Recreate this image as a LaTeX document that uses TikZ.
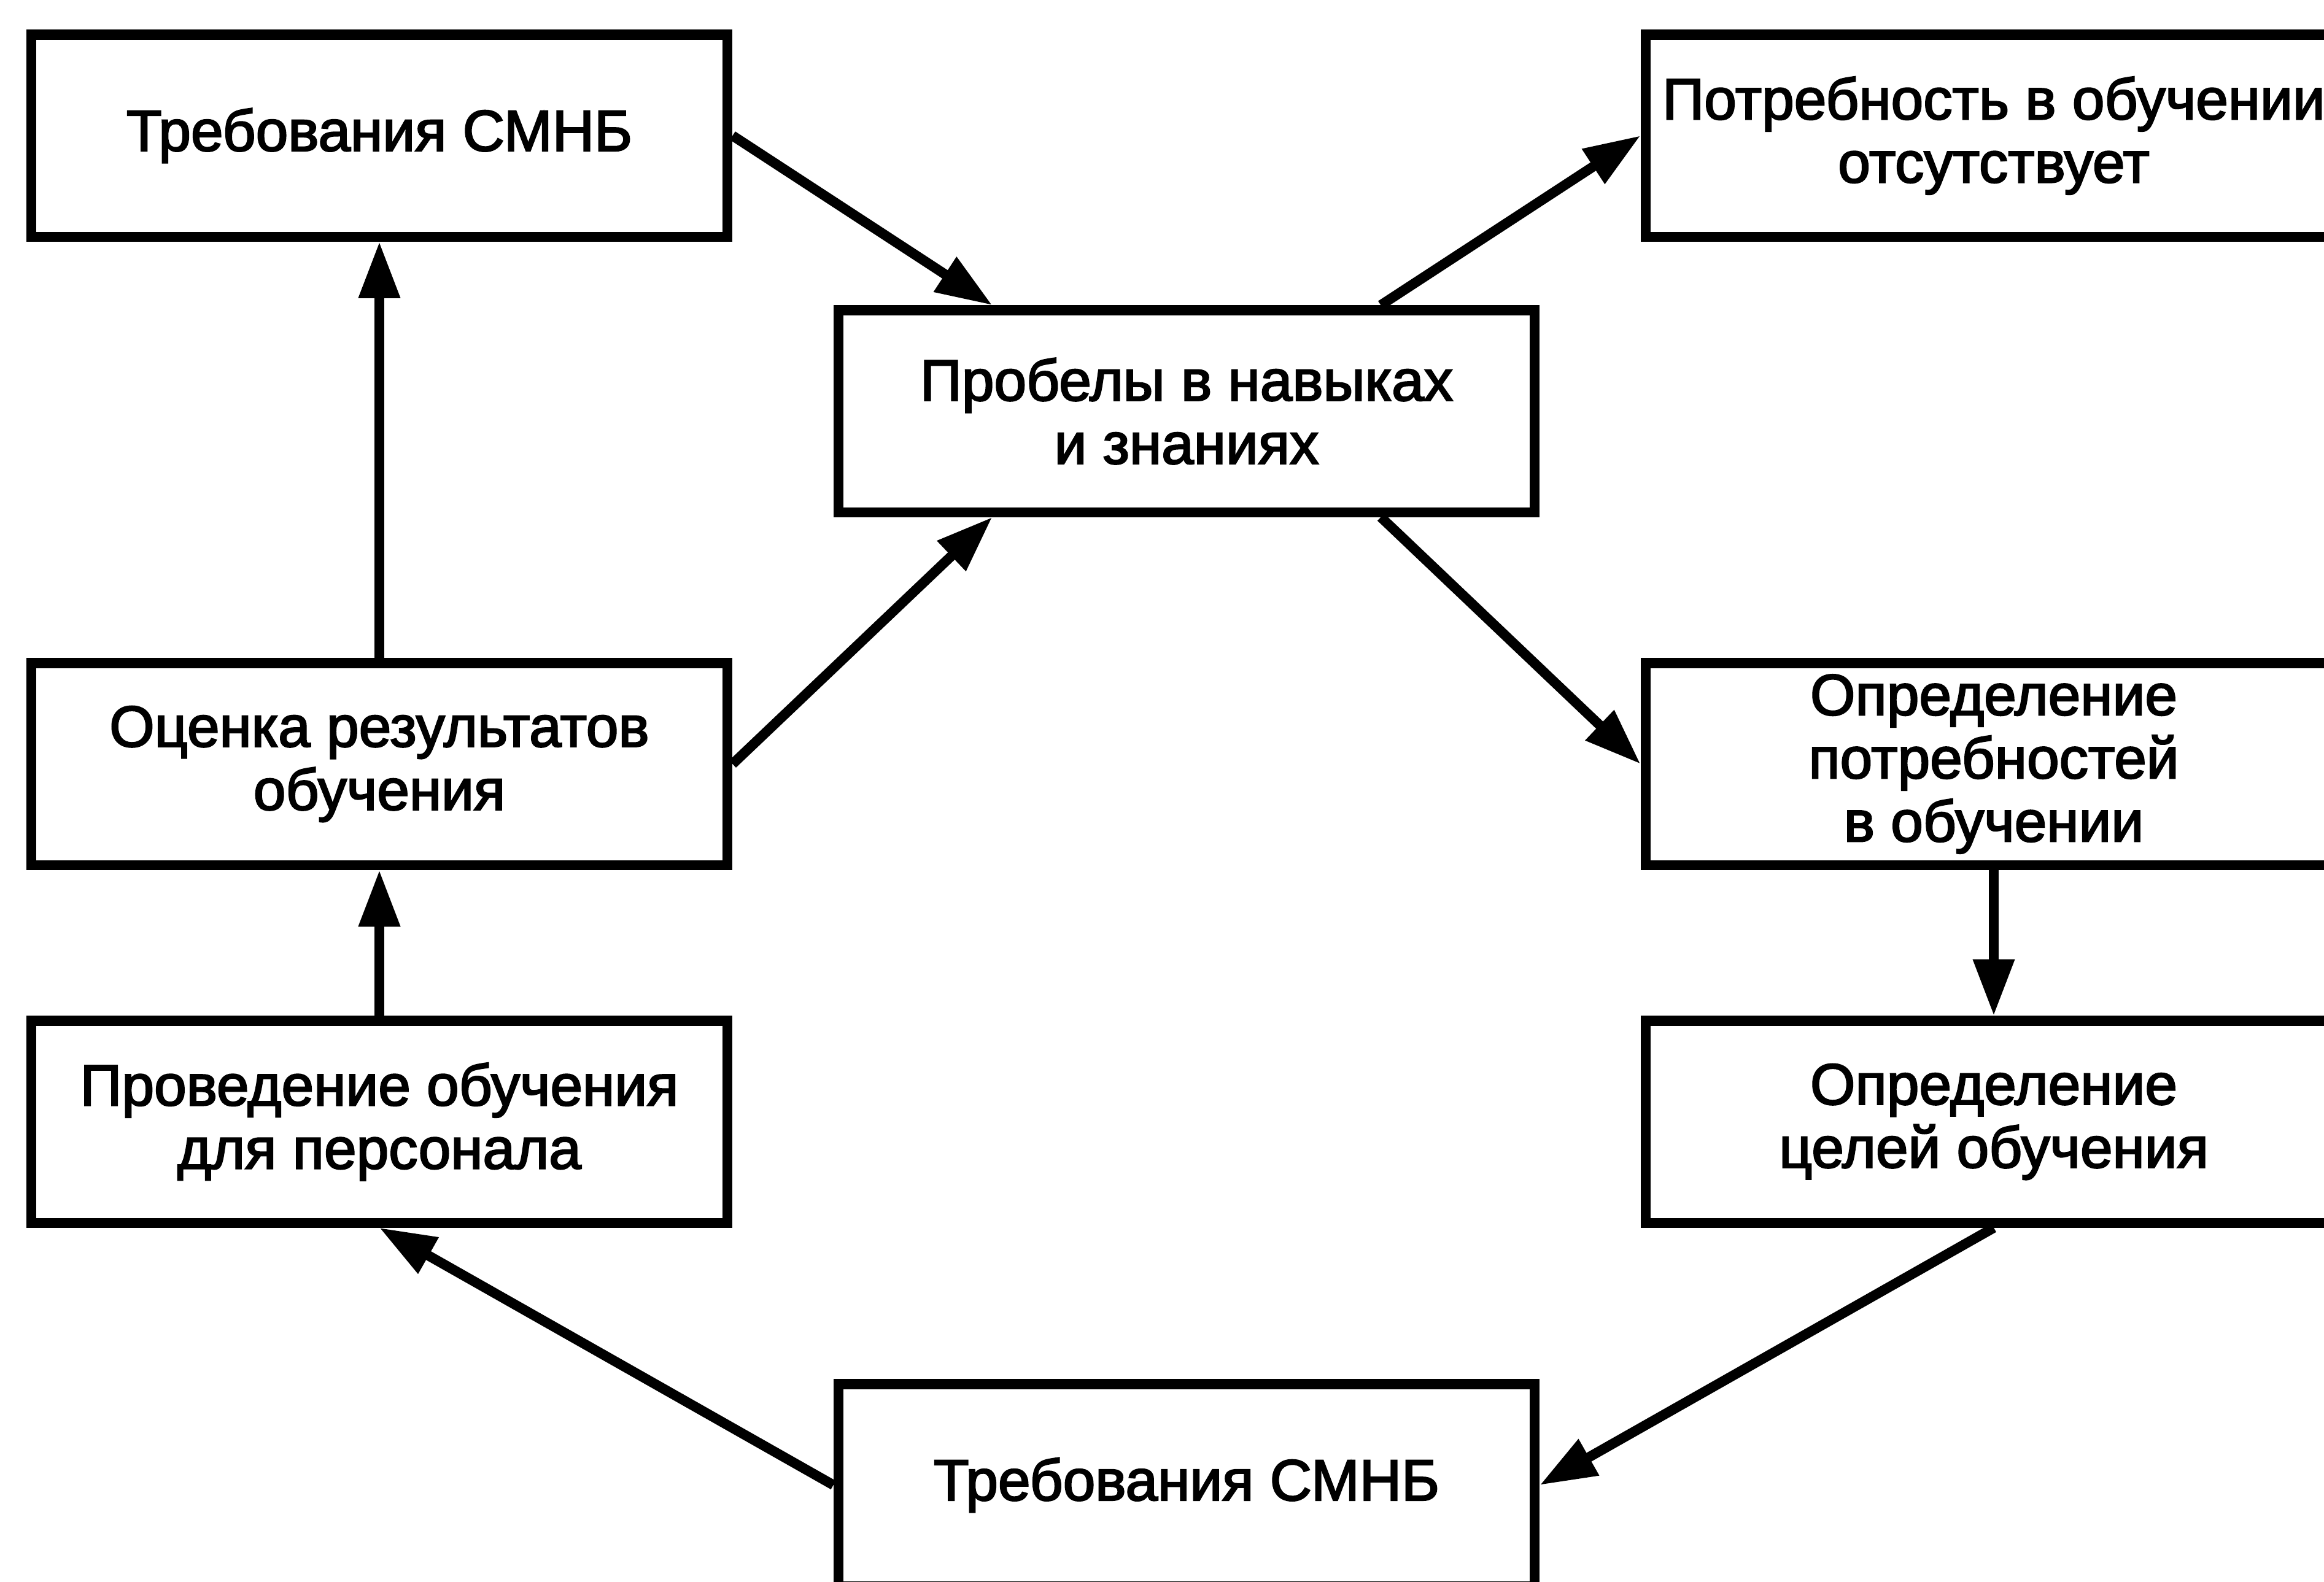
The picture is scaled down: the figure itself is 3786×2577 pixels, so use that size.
\documentclass[tikz,border=0pt]{standalone}
\usepackage{fontspec}
\setmainfont{Liberation Sans}
\newfontfamily\boxfont{Liberation Sans}[FakeBold=2.5]
\usetikzlibrary{arrows.meta,calc}
\begin{document}
\begin{tikzpicture}[x=0.01cm,y=-0.01cm,
  box/.style={draw,line width=4.6pt,minimum width=11.34cm,minimum height=3.29cm,inner sep=0pt,align=center,font=\boxfont\fontsize{26.9}{29.3}\selectfont},
  arr/.style={line width=4.6pt,-{Triangle[length=0.92cm,width=0.64cm]}}]
\clip (0,0) rectangle (3786,2577);
\fill[white] (0,0) rectangle (3786,2577);
\node[box] (tl) at (618,221) {Требования СМНБ};
\node[box] (tr) at (3248,221) {Потребность в обучении\\отсутствует};
\node[box] (c) at (1933,670) {Пробелы в навыках\\и знаниях};
\node[box] (lm) at (618,1245) {Оценка результатов\\обучения};
\node[box] (rm) at (3248,1245) {Определение\\потребностей\\в обучении};
\node[box] (ll) at (618,1828) {Проведение обучения\\для персонала};
\node[box] (rl) at (3248,1828) {Определение\\целей обучения};
\node[box] (b) at (1933,2420) {Требования СМНБ};
\draw[arr] (tl.east) -- ($(c.north west)!0.225!(c.north east)$);
\draw[arr] ($(c.north west)!0.775!(c.north east)$) -- (tr.west);
\draw[arr] ($(c.south west)!0.775!(c.south east)$) -- (rm.west);
\draw[arr] (rm.south) -- (rl.north);
\draw[arr] (rl.south) -- (b.east);
\draw[arr] (b.west) -- (ll.south);
\draw[arr] (ll.north) -- (lm.south);
\draw[arr] (lm.north) -- (tl.south);
\draw[arr] (lm.east) -- ($(c.south west)!0.225!(c.south east)$);
\end{tikzpicture}
\end{document}
